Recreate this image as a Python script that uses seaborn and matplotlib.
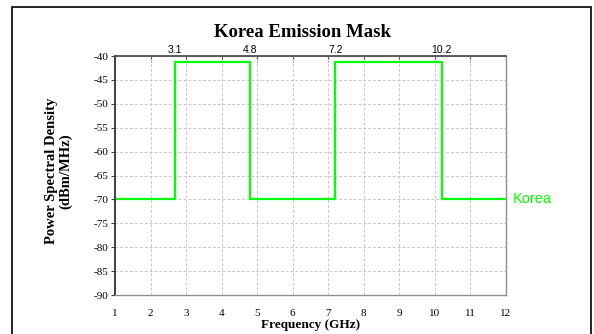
import numpy as np
import pandas as pd
import seaborn as sns
import matplotlib.pyplot as plt
from matplotlib.patches import Rectangle

# mask breakpoints (GHz) and limits (dBm/MHz)
freq = [1, 2.7, 4.8, 7.2, 10.2, 12]
psd = [-70, -41.3, -70, -41.3, -70, -70]
band_edges = [2.7, 4.8, 7.2, 10.2]
band_labels = ["3.1", "4.8", "7.2", "10.2"]
x_ticks = list(range(1, 13))
y_ticks = list(range(-90, -35, 5))

sns.set_theme(style="white", rc={"text.color": "black", "axes.labelcolor": "black",
                                 "xtick.color": "black", "ytick.color": "black"})
plt.rcParams["font.family"] = ["Liberation Serif", "DejaVu Serif"]

df = pd.DataFrame({"Frequency": freq, "PSD": psd})

fig = plt.figure(figsize=(5.94, 3.34), dpi=100)
ax = fig.add_axes([115/594, 1 - 295/334, 390.7/594, 239/334])

sns.lineplot(data=df, x="Frequency", y="PSD", drawstyle="steps-post",
             color="#00ff00", linewidth=1.6, ax=ax, sort=False)

ax.set_xlim(1, 12)
ax.set_ylim(-90, -40)
ax.set_xticks(x_ticks)
ax.set_xticklabels([str(t) for t in x_ticks], fontsize=8)
ax.set_yticks(y_ticks)
ax.set_yticklabels([str(t) for t in y_ticks], fontsize=8)
ax.tick_params(axis="x", length=0, pad=10)
ax.tick_params(axis="y", direction="out", length=3, width=0.8, color="#404040", pad=2, left=True)

ax.grid(True, linestyle=(0, (3, 2)), color="#c8c8c8", linewidth=0.7)

for side, col, lw in [("left", "#404040", 1.4), ("top", "#404040", 1.2),
                      ("bottom", "#909090", 1.0), ("right", "#909090", 1.0)]:
    ax.spines[side].set_color(col)
    ax.spines[side].set_linewidth(lw)

# top axis: inward marks at the integers, band edge labels
top = ax.secondary_xaxis("top")
top.set_xticks(x_ticks[1:-1])
top.set_xticklabels([""] * len(x_ticks[1:-1]))
top.tick_params(axis="x", direction="in", length=4, width=0.8, color="#404040")
top.set_xticks(band_edges, minor=True)
top.set_xticklabels(band_labels, minor=True, fontsize=7.5, family="Liberation Sans")
top.tick_params(axis="x", which="minor", length=0, pad=1)
top.spines["top"].set_visible(False)

ax.set_title("Korea Emission Mask", fontsize=13.5, fontweight="bold", x=0.48, y=1.045)
ax.set_xlabel("Frequency (GHz)", fontsize=9.5, fontweight="bold")
ax.xaxis.set_label_coords(0.5, -0.1)
ax.set_ylabel("Power Spectral Density\n(dBm/MHz)", fontsize=10.5, fontweight="bold", linespacing=1.05)
ax.yaxis.set_label_coords(-0.11, 0.52)

ax.text(12.2, psd[-1], "Korea", color="#00ff00", fontsize=10.5,
        family="Liberation Sans", va="center", ha="left", clip_on=False)

fig.add_artist(Rectangle((12/594, -0.1), (591 - 12)/594, 1.1 - 7/334,
                         transform=fig.transFigure, fill=False,
                         edgecolor="black", linewidth=1.2, clip_on=False))

fig.savefig("out.png", dpi=100, facecolor="white")
